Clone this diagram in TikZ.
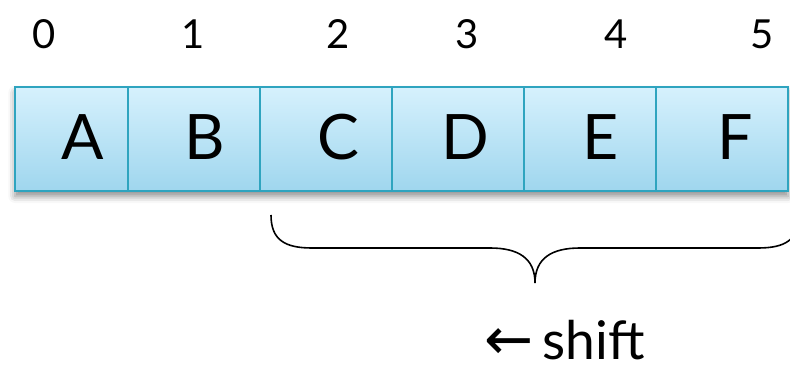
\documentclass[tikz,border=0pt]{standalone}
\usepackage{fontspec}
\setmainfont{Lato}
\newfontfamily\arrowfont{DejaVu Sans}
\usetikzlibrary{shadows.blur}
\definecolor{celltop}{HTML}{D6F1FD}
\definecolor{cellbot}{HTML}{9FD6EE}
\definecolor{cellline}{HTML}{2FA4BF}
\tikzset{
  cellbox/.style={draw=cellline, line width=1.2pt, top color=celltop, bottom color=cellbot, inner sep=0pt},
  letter/.style={font=\fontsize{47}{50}\selectfont, inner sep=0pt},
  idx/.style={font=\fontsize{30}{34}\selectfont, inner sep=0pt},
  bracepath/.style={draw=black, line width=1.2pt}
}
\begin{document}
\begin{tikzpicture}[x=0.75pt,y=-0.75pt]
\useasboundingbox (0,0) rectangle (790,367);
% shadow under the whole strip
\fill[blur shadow={shadow xshift=0pt, shadow yshift=-4pt, shadow blur radius=5pt, shadow opacity=45}, white] (15,87) rectangle (788,191);
% cells
\foreach \n/\a/\b in {c0/15/128, c1/128/260, c2/260/392, c3/392/524, c4/524/656, c5/656/788}{
  \path[cellbox] (\a,87) rectangle (\b,191) coordinate (\n);
}
% letters
\node[letter] (lA) at (83,137) {A};
\node[letter] (lB) at (205,137) {B};
\node[letter] (lC) at (338,137) {C};
\node[letter] (lD) at (465,137) {D};
\node[letter] (lE) at (601,137) {E};
\node[letter] (lF) at (735,137) {F};
% indices
\node[idx] (i0) at (44,34) {0};
\node[idx] (i1) at (193,34) {1};
\node[idx] (i2) at (338,34) {2};
\node[idx] (i3) at (467,34) {3};
\node[idx] (i4) at (616,34) {4};
\node[idx] (i5) at (762,34) {5};
% brace
\coordinate (bl) at (271,215);
\coordinate (bt) at (535,283);
\coordinate (br) at (799,215);
\draw[bracepath] (bl) .. controls (271,240) and (285,248) .. (312,248) -- (490,248)
  .. controls (518,248) and (535,258) .. (bt)
  .. controls (535,258) and (552,248) .. (580,248) -- (758,248)
  .. controls (785,248) and (799,240) .. (br);
% shift label
\node[inner sep=0pt, anchor=base west] (sh) at (484,359) {{\arrowfont\fontsize{44}{46}\selectfont ←}\hspace{7pt}\fontsize{40}{44}\selectfont shift};
\end{tikzpicture}
\end{document}
